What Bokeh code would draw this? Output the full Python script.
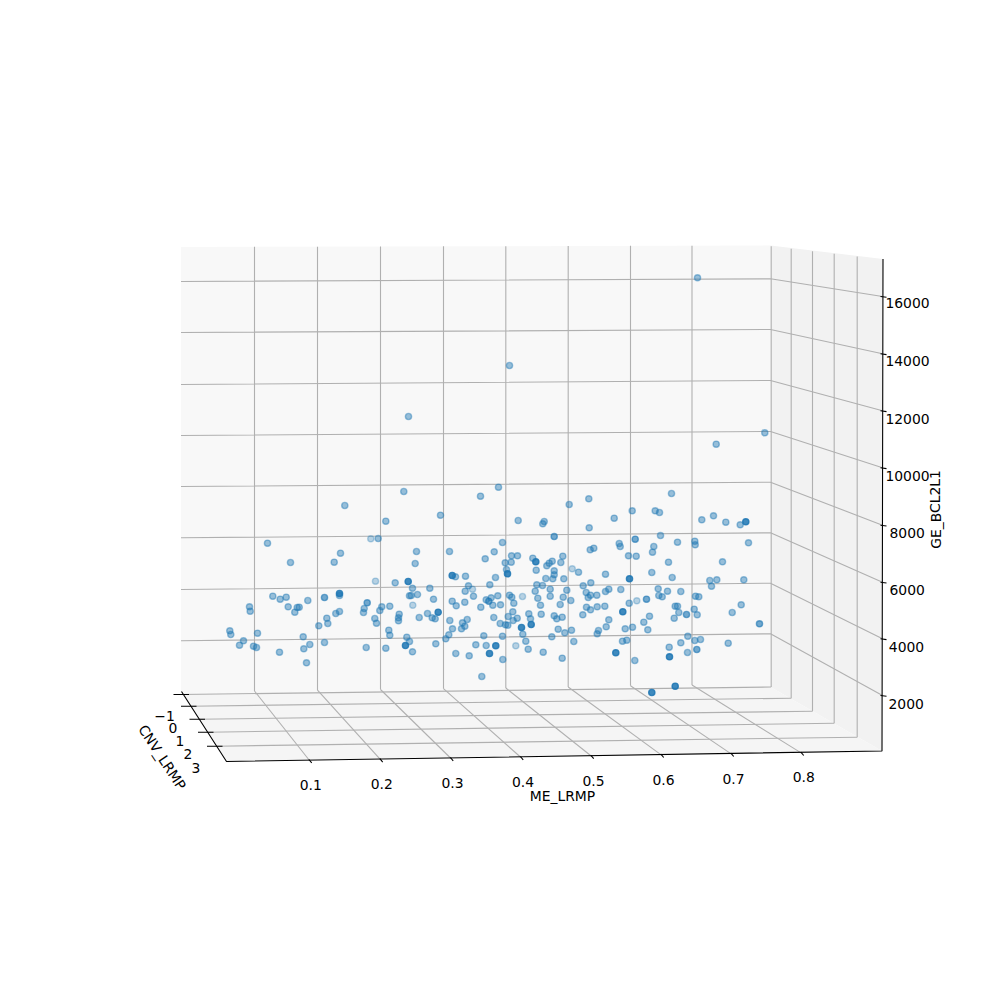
from bokeh.plotting import figure
from bokeh.models import Range1d
from bokeh.core.properties import value
from bokeh.embed import file_html
from bokeh.resources import INLINE

# Tick labels
me_ticks = ["0.1", "0.2", "0.3", "0.4", "0.5", "0.6", "0.7", "0.8"]
cnv_ticks = ["\u22121", "0", "1", "2", "3"]
ge_ticks = ["16000", "14000", "12000", "10000", "8000", "6000", "4000", "2000"]

# Projected samples, grouped by depth shade
far_x = [370.3, 375, 412.3, 472, 522, 515.3, 571.7, 636.3]
far_y = [538.3, 580.7, 604.7, 588.7, 596, 645.3, 568.3, 600.3]

mid_x = [697, 509, 408, 764.3, 715.7, 403.3, 344.3, 385.3, 267, 377.7, 340, 333.7, 290, 416, 414.7, 394.7, 412, 409,
         417, 410.7, 339, 272.3, 279.7, 285.7, 307.3, 287.7, 296.7, 298.7, 294.3, 249, 249.7, 363.7, 363, 381.3, 379.3,
         389.3, 339, 335.3, 326.3, 327.3, 318.3, 374.3, 376, 398.7, 398, 398, 418.7, 388.3, 389.3, 406.3, 409, 412,
         385.3, 365.7, 302.7, 309.3, 303.3, 324, 279, 306, 257, 229.3, 230.3, 243, 239, 253, 256,
         498, 480, 440, 517.7, 543.7, 542.3, 568.7, 588.3, 588.7, 502, 589.7, 593.3, 449, 493.7, 511, 517, 484.7, 532.3,
         562.3, 560.3, 551.7, 548.7, 546.3, 504.7, 510.7, 506, 535.7, 553.7, 553.7, 552.3, 545.3, 563.3, 578, 465, 455,
         495, 590.3, 582.7, 489.3, 468, 464.7, 536.3, 542, 549.7, 566.3, 534.7, 429.3, 585.7, 590, 587.7, 596.3, 549.7,
         562.7, 537.3, 509, 511.3, 513.3, 497.3, 490.7, 485.7, 492.3, 500, 473, 464.3, 451.7, 455.7, 480.3, 433, 570.3,
         559.7, 540, 586, 590, 596.7, 582.3, 540.7, 528.3, 530, 512.3, 507.7, 516.7, 512.7, 493.3, 553.7, 556.3, 561.7,
         427, 431.7, 434.7, 449.3, 466.7, 462, 464.3, 461, 452, 499.7, 505, 507.3, 557.7, 571, 564.3, 598, 596.7, 522.3,
         551.3, 502, 483.3, 448.3, 445.3, 435.3, 525.3, 573.3, 475.3, 485.7, 527.7, 542.7, 455.3, 468.7, 502.3, 561.7,
         481.3, 671, 631.7, 654.7, 659, 613.7, 701.3, 713, 725.3, 739.7, 660, 618.7, 619.7, 653.3, 652, 677, 694.3,
         694.7, 748, 628, 635.7, 668, 722, 651.3, 605, 671.7, 709.3, 716.3, 743.3, 711, 608.3, 605, 620.3, 657.7, 667,
         680.3, 658.3, 661.7, 695, 698.3, 628.7, 604.3, 674.7, 677, 693.7, 740.7, 678.3, 696.7, 731.7, 649, 673.7,
         608.3, 643.3, 605.7, 632, 624.7, 647.3, 687.3, 680.3, 694.3, 700, 622, 626.3, 727.7, 668.7, 687, 634.3]
mid_y = [277.3, 365, 416, 432.3, 443.7, 491, 505, 520.7, 542.7, 538, 552.7, 561.7, 562, 551, 563, 582.3, 587.7, 595.3,
         594, 595, 595, 595.7, 598.7, 596.7, 600, 606.3, 607, 606.7, 611.7, 606.3, 610.7, 608, 612, 606.3, 610,
         605.7, 611, 613, 617.7, 623, 625.3, 618, 622.7, 613.7, 617.3, 620.3, 617, 629.7, 634.7, 636.7, 641, 651.3,
         647.7, 647, 636.3, 644, 648.3, 642, 651.7, 662.3, 632.7, 630.3, 634, 640.3, 644.7, 645.7, 647,
         486.7, 495.7, 514.7, 520, 521, 523.3, 504, 498.3, 527.3, 542, 549.3, 547.7, 551, 551.3, 555.3, 555.3, 558.3, 557.7,
         555.7, 562, 560.7, 562.7, 565.3, 562.3, 561.7, 569, 569.7, 570.3, 574.3, 578.3, 578, 578.3, 571.7, 575.7, 576.3,
         577, 582.3, 585.3, 584.3, 585.3, 590.7, 584.3, 585, 588.7, 589.7, 590.7, 587.7, 592, 594.7, 597, 594.7, 595.7,
         596.7, 597.7, 594.7, 596.7, 602.7, 595.3, 597.3, 599.3, 604.7, 604.3, 595.7, 601.7, 600.7, 605.3, 606.7, 598.7, 600,
         604, 604.7, 606.7, 609.3, 606.3, 614.3, 613.7, 613.3, 618.3, 611.3, 616, 617.7, 620, 617, 615.3, 618.3, 616.7,
         613, 617.3, 618.3, 620, 619, 622.3, 625.7, 628.3, 628.3, 623, 624.3, 624.7, 628.7, 629.7, 632.3, 630, 633.3, 633.7,
         636.3, 635.7, 635.3, 634.3, 638.3, 643.3, 640.7, 641, 644.3, 645, 648.7, 651.7, 653, 655.3, 659, 657.7,
         676, 493, 510.3, 510.3, 512, 517.7, 519.3, 515.3, 521.7, 524.3, 535, 543, 546, 546, 551.7, 541.7, 540.7,
         544.3, 542.3, 555.3, 555.7, 561.7, 561.3, 572, 573.7, 577, 580, 579.3, 579.3, 585.7, 588.7, 591, 589, 588.3, 590.7,
         591, 595, 596.3, 595.7, 596.3, 602.7, 605.7, 605.7, 605.7, 608.7, 604.3, 612, 614.3, 612, 615.7, 617.7,
         619.3, 621.7, 626.3, 626.7, 628.3, 629.3, 635.7, 642.3, 640, 639, 640.7, 639.7, 642.7, 646.7, 652, 660]

semi_x = [324, 366.7, 488.3, 553.7, 634.7, 646, 686, 696.3, 759]
semi_y = [597, 602.3, 600.7, 536, 538.7, 598.7, 614, 649, 623.3]

near_x = [407.7, 339, 405, 535.3, 507, 451.7, 437.7, 530.7, 521, 495.3, 489, 745.3, 629, 622.3, 615.3, 669, 674.7, 651.3]
near_y = [581, 593, 645, 561.3, 573.3, 575, 611.7, 624, 627, 645.3, 653, 521.3, 578.3, 611.3, 652.3, 656.3, 685.7, 692]

# Box outline
back_x = [180.5, 770, 770, 180.5]
back_y = [246.5, 245, 686.5, 692.5]
side_x = [770, 882.5, 881.5, 770]
side_y = [245, 258.5, 750.5, 686.5]
floor_x = [180.5, 770, 881.5, 226]
floor_y = [692.5, 686.5, 750.5, 761]

# Grid lines
me_back_x = [254, 317, 380, 443, 505.3, 567.7, 630, 691.5]
me_back_bottom = [690.5, 689.7, 689, 688.2, 687.5, 686.5, 685.3, 684.5]
me_front_x = [309, 380, 450.5, 520.5, 591, 661, 731, 801]
me_front_y = [760, 759.2, 758, 757, 755.8, 754.6, 753.6, 752.6]
cnv_left_x = [182.5, 190, 198.5, 207, 216]
cnv_left_y = [694, 705.7, 718.7, 731.7, 745.7]
cnv_right_x = [770.7, 790.7, 812, 833.7, 856.7]
cnv_right_y = [686.5, 697.7, 710.7, 722.7, 736.7]
cnv_top_y = [245.7, 248.3, 250.7, 253.3, 256]
ge_left_y = [281, 332, 384, 435, 486, 537.3, 589, 640.3]
ge_mid_y = [278.3, 329, 380, 431, 481.7, 532.3, 582.7, 633.3]
ge_right_y = [296, 353.3, 410.3, 467.3, 524.7, 581.7, 638.3, 695]

# Tick label anchors
me_label_x = [310.3, 381.3, 452, 522.5, 593, 663, 733, 803.3]
me_label_y = [784.5, 783.5, 782.5, 781.5, 780.7, 779.7, 778.5, 776.5]
cnv_label_x = [164, 172.3, 179.3, 187.3, 195.3]
cnv_label_y = [715, 727.3, 740, 753.3, 767.3]
ge_label_x = [907, 907, 907, 907, 906.7, 906.7, 906, 905.7]
ge_label_y = [302.7, 360, 418, 475, 532, 589, 646, 703]

GRID = "#b0b0b0"
BLUE = "#1f77b4"

p = figure(width=984, height=984, x_range=Range1d(0, 984), y_range=Range1d(984, 0),
           x_axis_location=None, y_axis_location=None, toolbar_location=None,
           output_backend="svg", min_border=0, outline_line_color=None, background_fill_color="white")
p.grid.visible = False

p.patch(back_x, back_y, fill_color="#f8f8f8", line_color=None)
p.patch(side_x, side_y, fill_color="#f2f2f2", line_color=None)
p.patch(floor_x, floor_y, fill_color="#f5f5f5", line_color=None)

n_me = len(me_ticks)
n_cnv = len(cnv_ticks)
n_ge = len(ge_ticks)
back_top = [246.5 - (x - 180.5) * 1.5 / 589.5 for x in me_back_x]

p.multi_line([[me_back_x[i], me_back_x[i]] for i in range(n_me)],
             [[back_top[i], me_back_bottom[i]] for i in range(n_me)], line_color=GRID, line_width=1.1)
p.multi_line([[me_back_x[i], me_front_x[i]] for i in range(n_me)],
             [[me_back_bottom[i], me_front_y[i]] for i in range(n_me)], line_color=GRID, line_width=1.1)
p.multi_line([[cnv_left_x[i], cnv_right_x[i]] for i in range(n_cnv)],
             [[cnv_left_y[i], cnv_right_y[i]] for i in range(n_cnv)], line_color=GRID, line_width=1.1)
p.multi_line([[cnv_right_x[i], cnv_right_x[i]] for i in range(n_cnv)],
             [[cnv_top_y[i], cnv_right_y[i]] for i in range(n_cnv)], line_color=GRID, line_width=1.1)
p.multi_line([[180.5, 770, 882] for i in range(n_ge)],
             [[ge_left_y[i], ge_mid_y[i], ge_right_y[i]] for i in range(n_ge)], line_color=GRID, line_width=1.1)

# Axis lines
p.line([181, 226, 881.5, 882.5], [691, 761, 750.5, 258.5], line_color="black", line_width=1.1)

# Ticks
p.multi_line([[me_front_x[i] - 0.6, me_front_x[i] + 2.2] for i in range(n_me)],
             [[me_front_y[i] - 1, me_front_y[i] + 2.4] for i in range(n_me)], line_color="black", line_width=1.1)
p.multi_line([[cnv_left_x[i] - 9.5, cnv_left_x[i] + 6] for i in range(n_cnv)],
             [[cnv_left_y[i], cnv_left_y[i]] for i in range(n_cnv)], line_color="black", line_width=1.1)
p.multi_line([[880, 886] for i in range(n_ge)],
             [[ge_right_y[i], ge_right_y[i] + 0.8] for i in range(n_ge)], line_color="black", line_width=1.1)

# Points
for xs, ys, a in [(far_x, far_y, 0.3), (mid_x, mid_y, 0.45), (semi_x, semi_y, 0.62), (near_x, near_y, 0.85)]:
    p.scatter(xs, ys, size=6.2, fill_color=BLUE, line_color=BLUE, fill_alpha=a, line_alpha=a, line_width=1.39)

# Texts
font = value("DejaVu Sans")
size = value("13.9px")
for xs, ys, labels in [(me_label_x, me_label_y, me_ticks), (cnv_label_x, cnv_label_y, cnv_ticks),
                       (ge_label_x, ge_label_y, ge_ticks)]:
    p.text(xs, ys, text=labels, text_font=font, text_font_size=size, text_color="black",
           text_align="center", text_baseline="middle")

p.text([562], [795], text=["ME_LRMP"], text_font=font, text_font_size=size, text_align="center",
       text_baseline="middle", text_color="black")
p.text([161.7], [756.7], text=["CNV_LRMP"], angle=-0.99, text_font=font, text_font_size=size, text_align="center",
       text_baseline="middle", text_color="black")
p.text([935], [509], text=["GE_BCL2L1"], angle=1.5708, text_font=font, text_font_size=size, text_align="center",
       text_baseline="middle", text_color="black")

open("out.html", "w").write(file_html(p, INLINE))
